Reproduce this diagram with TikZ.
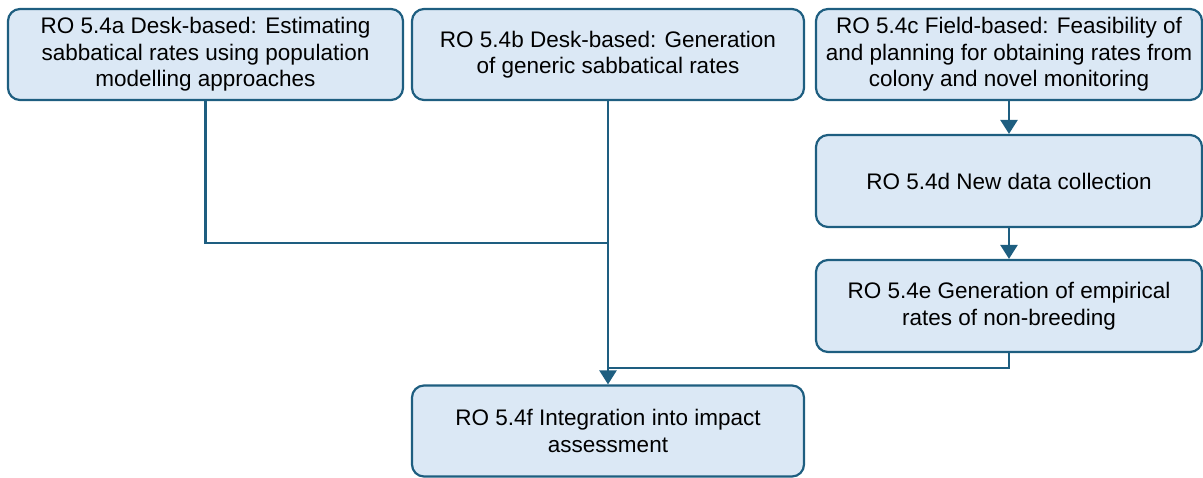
\documentclass[tikz,border=0pt]{standalone}
\usepackage{fontspec}
\setmainfont{Liberation Sans}
\usetikzlibrary{arrows.meta}
\definecolor{boxfill}{RGB}{219,232,245}
\definecolor{boxline}{RGB}{30,94,128}
\begin{document}
\begin{tikzpicture}[x=1pt,y=1pt,
  rbox/.style={draw=boxline, fill=boxfill, line width=2.2pt, rounded corners=12pt,
    align=center, inner sep=0pt, font=\fontsize{22.5}{26.5}\selectfont},
  conn/.style={draw=boxline, line width=2.4pt},
  arr/.style={conn, -{Triangle[width=17pt,length=14pt]}}]
\useasboundingbox (0,0) rectangle (1203,-477);
\node[rbox, minimum width=395pt, minimum height=91pt] (a) at (205.5,-54.5)
  {RO 5.4a Desk-based: Estimating\\sabbatical rates using population\\modelling approaches};
\node[rbox, minimum width=392pt, minimum height=91pt] (b) at (608,-54.5)
  {RO 5.4b Desk-based: Generation\\of generic sabbatical rates};
\node[rbox, minimum width=386pt, minimum height=91pt] (c) at (1009,-54.5)
  {RO 5.4c Field-based: Feasibility of\\and planning for obtaining rates from\\colony and novel monitoring};
\node[rbox, minimum width=386pt, minimum height=92pt] (d) at (1009,-181)
  {RO 5.4d New data collection};
\node[rbox, minimum width=386pt, minimum height=92pt] (e) at (1009,-306)
  {RO 5.4e Generation of empirical\\rates of non-breeding};
\node[rbox, minimum width=392pt, minimum height=91pt] (f) at (608,-431)
  {RO 5.4f Integration into impact\\assessment};
\coordinate (j1) at (608,-243);
\coordinate (j2) at (608,-368);
\draw[conn] (a.south) |- (j1);
\draw[conn] (e.south) |- (j2);
\draw[arr] (b.south) -- (f.north);
\draw[arr] (c.south) -- (d.north);
\draw[arr] (d.south) -- (e.north);
\end{tikzpicture}
\end{document}
